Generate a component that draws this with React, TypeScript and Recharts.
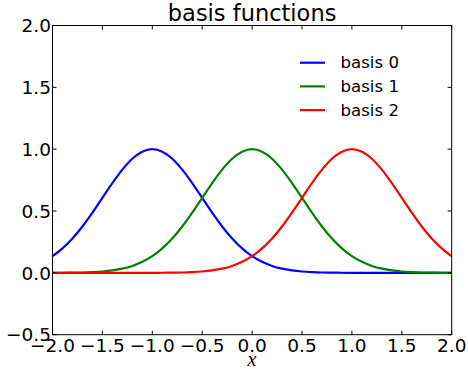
import { Line, LineChart, XAxis, YAxis } from "recharts";

// x positions sampled along the curves
const xValues = [
  -2.0, -1.9, -1.8, -1.7, -1.6, -1.5, -1.4, -1.3, -1.2, -1.1,
  -1.0, -0.9, -0.8, -0.7, -0.6, -0.5, -0.4, -0.3, -0.2, -0.1,
  0.0, 0.1, 0.2, 0.3, 0.4, 0.5, 0.6, 0.7, 0.8, 0.9,
  1.0, 1.1, 1.2, 1.3, 1.4, 1.5, 1.6, 1.7, 1.8, 1.9, 2.0,
];

const basis0 = [
  0.135, 0.198, 0.278, 0.375, 0.487, 0.607, 0.726, 0.835, 0.923, 0.98,
  1.0, 0.98, 0.923, 0.835, 0.726, 0.607, 0.487, 0.375, 0.278, 0.198,
  0.135, 0.089, 0.056, 0.034, 0.02, 0.011, 0.006, 0.003, 0.002, 0.001,
  0, 0, 0, 0, 0, 0, 0, 0, 0, 0, 0,
];

const basis1 = [
  0, 0.001, 0.002, 0.003, 0.006, 0.011, 0.02, 0.034, 0.056, 0.089,
  0.135, 0.198, 0.278, 0.375, 0.487, 0.607, 0.726, 0.835, 0.923, 0.98,
  1.0, 0.98, 0.923, 0.835, 0.726, 0.607, 0.487, 0.375, 0.278, 0.198,
  0.135, 0.089, 0.056, 0.034, 0.02, 0.011, 0.006, 0.003, 0.002, 0.001, 0,
];

const basis2 = [
  0, 0, 0, 0, 0, 0, 0, 0, 0, 0,
  0, 0.001, 0.002, 0.003, 0.006, 0.011, 0.02, 0.034, 0.056, 0.089,
  0.135, 0.198, 0.278, 0.375, 0.487, 0.607, 0.726, 0.835, 0.923, 0.98,
  1.0, 0.98, 0.923, 0.835, 0.726, 0.607, 0.487, 0.375, 0.278, 0.198, 0.135,
];

const seriesNames = ["basis 0", "basis 1", "basis 2"];
const seriesColors = ["#0000ff", "#008000", "#ff0000"];

const xTicks = [-2.0, -1.5, -1.0, -0.5, 0.0, 0.5, 1.0, 1.5, 2.0];
const yTicks = [-0.5, 0.0, 0.5, 1.0, 1.5, 2.0];

const data = xValues.map((x, i) => ({
  x,
  b0: basis0[i],
  b1: basis1[i],
  b2: basis2[i],
}));

const FONT = "'DejaVu Sans', sans-serif";
const TICK_FS = 18.5;
const TICK_LEN = 4;

const fmt = (v: number) => v.toFixed(1).replace("-", "\u2212");

const makeTick =
  (side: "bottom" | "top" | "left" | "right", showLabel: boolean) =>
  (props: any) => {
    const { x, y, payload } = props;
    let line;
    if (side === "bottom") line = <line x1={x} y1={y} x2={x} y2={y - TICK_LEN} stroke="#000" />;
    else if (side === "top") line = <line x1={x} y1={y} x2={x} y2={y + TICK_LEN} stroke="#000" />;
    else if (side === "left") line = <line x1={x} y1={y} x2={x + TICK_LEN} y2={y} stroke="#000" />;
    else line = <line x1={x} y1={y} x2={x - TICK_LEN} y2={y} stroke="#000" />;
    let label = null;
    if (showLabel && side === "bottom") {
      label = (
        <text x={x} y={y + 17} textAnchor="middle" fontSize={TICK_FS} fontFamily={FONT} fill="#000">
          {fmt(payload.value)}
        </text>
      );
    }
    if (showLabel && side === "left") {
      label = (
        <text x={x - 1.5} y={y + 6.7} textAnchor="end" fontSize={TICK_FS} fontFamily={FONT} fill="#000">
          {fmt(payload.value)}
        </text>
      );
    }
    return (
      <g>
        {line}
        {label}
      </g>
    );
  };

export default function App() {
  const keys = ["b0", "b1", "b2"];
  return (
    <div style={{ position: "absolute", left: 0, top: 0, width: 468, height: 369, background: "#fff" }}>
      <LineChart width={468} height={369} data={data} margin={{ top: 0, right: 0, bottom: 0, left: 0 }}>
        <XAxis
          xAxisId="0"
          dataKey="x"
          type="number"
          domain={[-2, 2]}
          ticks={xTicks}
          allowDataOverflow
          orientation="bottom"
          height={34.3}
          tickSize={0}
          tickMargin={0}
          tickLine={false}
          stroke="#000"
          tick={makeTick("bottom", true)}
        />
        <XAxis
          xAxisId="top"
          dataKey="x"
          type="number"
          domain={[-2, 2]}
          ticks={xTicks}
          allowDataOverflow
          orientation="top"
          height={25.5}
          tickSize={0}
          tickMargin={0}
          tickLine={false}
          stroke="#000"
          tick={makeTick("top", false)}
        />
        <YAxis
          yAxisId="0"
          type="number"
          domain={[-0.5, 2]}
          ticks={yTicks}
          allowDataOverflow
          orientation="left"
          width={52.5}
          tickSize={0}
          tickMargin={0}
          tickLine={false}
          stroke="#000"
          tick={makeTick("left", true)}
        />
        <YAxis
          yAxisId="right"
          type="number"
          domain={[-0.5, 2]}
          ticks={yTicks}
          allowDataOverflow
          orientation="right"
          width={16.3}
          tickSize={0}
          tickMargin={0}
          tickLine={false}
          stroke="#000"
          tick={makeTick("right", false)}
        />
        {keys.map((k, i) => (
          <Line
            key={k}
            xAxisId="0"
            yAxisId="0"
            dataKey={k}
            name={seriesNames[i]}
            type="monotone"
            stroke={seriesColors[i]}
            strokeWidth={2.2}
            dot={false}
            activeDot={false}
            isAnimationActive={false}
          />
        ))}
      </LineChart>

      <div
        style={{
          position: "absolute",
          left: 52.5,
          width: 399.2,
          top: 0,
          textAlign: "center",
          fontFamily: FONT,
          fontSize: 22.5,
          lineHeight: "26px",
          color: "#000",
        }}
      >
        basis functions
      </div>

      <svg style={{ position: "absolute", left: 0, top: 0 }} width={468} height={369}>
        <text
          x={252}
          y={366}
          textAnchor="middle"
          fontFamily="'Liberation Serif', serif"
          fontStyle="italic"
          fontSize={20}
          fill="#000"
        >
          x
        </text>
        {seriesNames.map((name, i) => (
          <g key={name}>
            <line
              x1={300}
              x2={325}
              y1={62.7 + i * 23.7}
              y2={62.7 + i * 23.7}
              stroke={seriesColors[i]}
              strokeWidth={2.2}
            />
            <text x={340.5} y={68.3 + i * 23.7} fontFamily={FONT} fontSize={16.6} fill="#000">
              {name}
            </text>
          </g>
        ))}
      </svg>
    </div>
  );
}
